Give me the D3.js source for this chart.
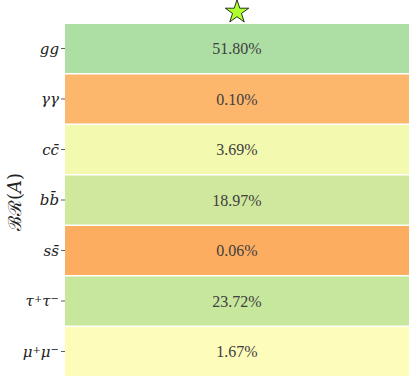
<!DOCTYPE html>
<html>
<head>
<meta charset="utf-8">
<script src="https://cdn.jsdelivr.net/npm/d3@7"></script>
<style>
  body { margin: 0; background: #fff; }
  svg { display: block; }
</style>
</head>
<body>
<div id="chart"></div>
<script>
// Chart data
var channels = ["gg", "γγ", "cc", "bb", "ss", "tautau", "mumu"];
var branching = [51.80, 0.10, 3.69, 18.97, 0.06, 23.72, 1.67];
var cellColors = ["#addfa5", "#fdb76d", "#f4f9b0", "#cfe89d", "#fdad60", "#c6e79c", "#fefcbb"];

var svgWidth = 415;
var svgHeight = 382;
var margin = { top: 24, right: 6, bottom: 6, left: 65 };
var width = svgWidth - margin.left - margin.right;
var height = svgHeight - margin.top - margin.bottom;

var svg = d3.select("#chart")
  .append("svg")
  .attr("width", svgWidth)
  .attr("height", svgHeight);

var chartGroup = svg.append("g")
  .attr("transform", `translate(${margin.left}, ${margin.top})`);

var yScale = d3.scaleBand()
  .domain(channels)
  .range([0, height])
  .paddingInner(0.03);

var xScale = d3.scaleBand()
  .domain(["A"])
  .range([0, width]);

// cells
chartGroup.selectAll("rect.cell")
  .data(channels)
  .enter()
  .append("rect")
  .attr("class", "cell")
  .attr("x", xScale("A"))
  .attr("y", d => yScale(d))
  .attr("width", xScale.bandwidth())
  .attr("height", yScale.bandwidth())
  .attr("fill", (d, i) => cellColors[i]);

// values in cells
chartGroup.selectAll("text.val")
  .data(channels)
  .enter()
  .append("text")
  .attr("class", "val")
  .attr("x", xScale("A") + xScale.bandwidth() / 2)
  .attr("y", d => yScale(d) + yScale.bandwidth() / 2)
  .attr("dy", "0.35em")
  .attr("text-anchor", "middle")
  .attr("font-family", "'Liberation Serif', serif")
  .attr("font-size", "16px")
  .attr("fill", "#404040")
  .text((d, i) => branching[i].toFixed(2) + "%");

// y axis ticks
var yAxis = chartGroup.append("g");
yAxis.selectAll("line")
  .data(channels)
  .enter()
  .append("line")
  .attr("x1", -4)
  .attr("x2", 0)
  .attr("y1", d => yScale(d) + yScale.bandwidth() / 2)
  .attr("y2", d => yScale(d) + yScale.bandwidth() / 2)
  .attr("stroke", "#333")
  .attr("stroke-width", 0.8);

// tick labels with latex-ish markup
var labelParts = {
  "gg": [["gg", 0]],
  "γγ": [["γγ", 0]],
  "cc": [["c", 0], ["c̄", 0]],
  "bb": [["b", 0], ["b̄", 0]],
  "ss": [["s", 0], ["s̄", 0]],
  "tautau": [["τ", 0], ["+", 1], ["τ", 0], ["−", 1]],
  "mumu": [["μ", 0], ["+", 1], ["μ", 0], ["−", 1]]
};

channels.forEach(function(c) {
  var t = yAxis.append("text")
    .attr("x", -6)
    .attr("y", yScale(c) + yScale.bandwidth() / 2)
    .attr("dy", "0.35em")
    .attr("text-anchor", "end")
    .attr("font-family", "'DejaVu Serif', serif")
    .attr("font-style", "italic")
    .attr("font-size", "15px")
    .attr("fill", "#222");
  labelParts[c].forEach(function(p) {
    var ts = t.append("tspan").text(p[0]);
    if (p[1]) {
      ts.attr("font-size", "10px").attr("font-style", "normal").attr("baseline-shift", "40%");
    }
  });
});

// y axis title
var ytitle = svg.append("text")
  .attr("transform", `translate(21, ${margin.top + height / 2 + 2}) rotate(-90)`)
  .attr("text-anchor", "middle")
  .attr("font-family", "'DejaVu Serif', serif")
  .attr("font-size", "18px")
  .attr("fill", "#222");
ytitle.append("tspan").text("ℬℛ(");
ytitle.append("tspan").attr("font-style", "italic").text("A");
ytitle.append("tspan").text(")");

// star marker above the column
var star = d3.symbol().type(d3.symbolStar).size(170);
svg.append("path")
  .attr("d", star())
  .attr("transform", `translate(${margin.left + xScale("A") + xScale.bandwidth() / 2}, 12)`)
  .attr("fill", "#adff2f")
  .attr("stroke", "#000")
  .attr("stroke-width", 0.8);
</script>
</body>
</html>
